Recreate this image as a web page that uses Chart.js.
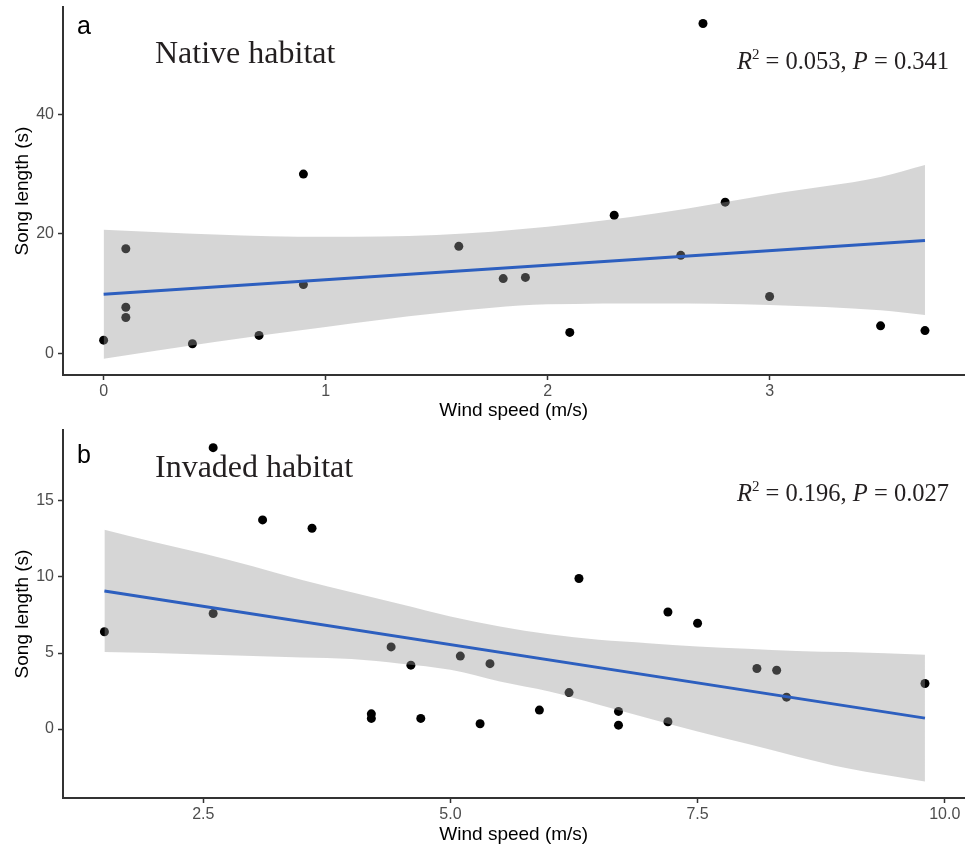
<!DOCTYPE html>
<html lang="en">
<head>
    <meta charset="UTF-8">
    <title>Song length vs wind speed</title>
    <style>
        html, body { margin: 0; padding: 0; background: #fff; overflow: hidden; }
        .panel { position: absolute; left: 0; }
        #panelA { top: 0; }
        #panelB { top: 420px; }
    </style>
</head>
<body>

    <div class="panel" id="panelA"><canvas id="chartA" width="969" height="420"></canvas></div>
    <div class="panel" id="panelB"><canvas id="chartB" width="969" height="425"></canvas></div>

    <script src="https://cdn.jsdelivr.net/npm/chart.js@4.4.1/dist/chart.umd.min.js"></script>
    <script>
        // panel a - native habitat
        var windA = [0, 0.1, 0.1, 0.1, 0.4, 0.7, 0.9, 0.9, 1.6, 1.8, 1.9, 2.1, 2.3, 2.6, 2.7, 2.8, 3.0, 3.5, 3.7];
        var songA = [2.2, 17.5, 7.7, 6.0, 1.6, 3.0, 30.0, 11.5, 17.9, 12.5, 12.7, 3.5, 23.1, 16.4, 55.2, 25.3, 9.5, 4.6, 3.8];
        var fitXA = [0, 3.7];
        var fitYA = [9.9, 18.9];
        var bandXA = [0, 0.5, 1, 1.5, 2, 2.5, 3, 3.5, 3.7];
        var bandHiA = [20.7, 19.9, 19.5, 19.8, 21.2, 23.5, 26.6, 29.5, 31.5];
        var bandLoA = [-0.9, 1.9, 4.4, 6.7, 8.2, 8.35, 8.1, 7.2, 6.4];
        var xTicksA = [0, 1, 2, 3];
        var yTicksA = [0, 20, 40];

        // panel b - invaded habitat
        var windB = [1.5, 2.6, 2.6, 3.1, 3.6, 4.2, 4.2, 4.4, 4.6, 4.7, 5.1, 5.3, 5.4, 5.9, 6.2, 6.3, 6.7, 6.7, 7.2, 7.2, 7.5, 8.1, 8.3, 8.4, 9.8];
        var songB = [6.4, 18.5, 7.6, 13.75, 13.2, 1.0, 0.7, 5.4, 4.2, 0.7, 4.8, 0.35, 4.3, 1.25, 2.4, 9.9, 1.16, 0.26, 7.7, 0.48, 6.96, 3.98, 3.87, 2.1, 3.0];
        var fitXB = [1.5, 9.8];
        var fitYB = [9.07, 0.72];
        var bandXB = [1.5, 2, 2.5, 3, 3.5, 4, 4.5, 5, 5.5, 6, 6.5, 7, 7.5, 8, 8.5, 9, 9.8];
        var bandHiB = [13.1, 12.3, 11.55, 10.7, 9.8, 9.0, 8.2, 7.4, 6.75, 6.24, 5.87, 5.65, 5.43, 5.28, 5.14, 5.06, 4.88];
        var bandLoB = [5.06, 5.0, 4.9, 4.8, 4.7, 4.6, 4.3, 3.9, 3.13, 2.47, 1.6, 0.72, -0.16, -0.97, -1.8, -2.56, -3.44];
        var xTicksB = [2.5, 5.0, 7.5, 10.0];
        var yTicksB = [0, 5, 10, 15];

        var sans = '"Liberation Sans", Arial, sans-serif';
        var serif = '"Liberation Serif", "Times New Roman", serif';

        function pts(xs, ys) {
            return xs.map(function (x, i) { return { x: x, y: ys[i] }; });
        }

        // letter, habitat title and the R2/P note
        var panelText = {
            id: 'panelText',
            afterDraw: function (chart, args, opts) {
                var ctx = chart.ctx;
                ctx.save();
                ctx.textBaseline = 'alphabetic';
                ctx.textAlign = 'left';
                ctx.fillStyle = '#000';
                ctx.font = '25px ' + sans;
                ctx.fillText(opts.letter, 77, opts.letterY);
                ctx.fillStyle = '#231f20';
                ctx.font = '32px ' + serif;
                ctx.fillText(opts.title, 155, opts.titleY);

                var parts = [
                    ['italic 24.5px ' + serif, 'R', 0],
                    ['15px ' + serif, '2', -10],
                    ['24.5px ' + serif, ' = ' + opts.r2 + ', ', 0],
                    ['italic 24.5px ' + serif, 'P', 0],
                    ['24.5px ' + serif, ' = ' + opts.p, 0]
                ];
                var total = 0;
                parts.forEach(function (p) { ctx.font = p[0]; total += ctx.measureText(p[1]).width; });
                var x = 949 - total;
                parts.forEach(function (p) {
                    ctx.font = p[0];
                    ctx.fillText(p[1], x, opts.statY + p[2]);
                    x += ctx.measureText(p[1]).width;
                });
                ctx.restore();
            }
        };

        function makeChart(id, c) {
            var ctx = document.getElementById(id).getContext('2d');
            return new Chart(ctx, {
                type: 'scatter',
                data: {
                    datasets: [
                        {
                            data: pts(c.wind, c.song),
                            backgroundColor: '#000',
                            borderWidth: 0,
                            pointRadius: 4.5,
                            order: 3
                        },
                        {
                            type: 'line',
                            data: pts(c.bandX, c.bandHi),
                            borderColor: 'rgba(0,0,0,0)',
                            borderWidth: 0,
                            pointRadius: 0,
                            cubicInterpolationMode: 'monotone',
                            backgroundColor: 'rgba(153,153,153,0.4)',
                            fill: '+1',
                            order: 2
                        },
                        {
                            type: 'line',
                            data: pts(c.bandX, c.bandLo),
                            borderColor: 'rgba(0,0,0,0)',
                            borderWidth: 0,
                            pointRadius: 0,
                            cubicInterpolationMode: 'monotone',
                            fill: false,
                            order: 2
                        },
                        {
                            type: 'line',
                            data: pts(c.fitX, c.fitY),
                            borderColor: '#2d5fbf',
                            borderWidth: 3,
                            pointRadius: 0,
                            fill: false,
                            order: 1
                        }
                    ]
                },
                options: {
                    responsive: false,
                    animation: false,
                    layout: { padding: { top: c.top, left: 0, right: 0, bottom: 0 } },
                    plugins: {
                        legend: { display: false },
                        tooltip: { enabled: false },
                        panelText: c.text
                    },
                    scales: {
                        x: {
                            type: 'linear',
                            min: c.xMin,
                            max: c.xMax,
                            border: { display: true, color: '#333', width: 2 },
                            grid: { display: true, drawOnChartArea: false, drawTicks: true, tickLength: 5, tickColor: '#333', tickWidth: 1.5 },
                            ticks: {
                                color: '#4d4d4d',
                                font: { family: sans, size: 16 },
                                padding: 2,
                                callback: c.xFmt
                            },
                            afterBuildTicks: function (s) { s.ticks = c.xTicks.map(function (v) { return { value: v }; }); },
                            afterFit: function (s) {
                                s.height = c.xHeight;
                                s.paddingLeft = 0; s.paddingRight = 0;
                            },
                            title: {
                                display: true,
                                text: 'Wind speed (m/s)',
                                color: '#000',
                                font: { family: sans, size: 19 },
                                padding: { top: 0, bottom: c.xTitlePad }
                            }
                        },
                        y: {
                            type: 'linear',
                            min: c.yMin,
                            max: c.yMax,
                            border: { display: true, color: '#333', width: 2 },
                            grid: { display: true, drawOnChartArea: false, drawTicks: true, tickLength: 5, tickColor: '#333', tickWidth: 1.5 },
                            ticks: {
                                color: '#4d4d4d',
                                font: { family: sans, size: 16 },
                                padding: 4
                            },
                            afterBuildTicks: function (s) { s.ticks = c.yTicks.map(function (v) { return { value: v }; }); },
                            afterFit: function (s) {
                                s.width = 63;
                                s.paddingTop = 0; s.paddingBottom = 0;
                            },
                            title: {
                                display: true,
                                text: 'Song length (s)',
                                color: '#000',
                                font: { family: sans, size: 19 },
                                padding: { top: 11, bottom: 0 }
                            }
                        }
                    }
                },
                plugins: [panelText]
            });
        }

        makeChart('chartA', {
            wind: windA, song: songA, fitX: fitXA, fitY: fitYA,
            bandX: bandXA, bandHi: bandHiA, bandLo: bandLoA,
            xTicks: xTicksA, yTicks: yTicksA,
            xMin: -0.183, xMax: 3.878, yMin: -3.63, yMax: 57.96,
            top: 7, xHeight: 45, xTitlePad: -2,
            xFmt: function (v) { return String(v); },
            text: { letter: 'a', letterY: 34, title: 'Native habitat', titleY: 63, r2: '0.053', p: '0.341', statY: 69 }
        });

        makeChart('chartB', {
            wind: windB, song: songB, fitX: fitXB, fitY: fitYB,
            bandX: bandXB, bandHi: bandHiB, bandLo: bandLoB,
            xTicks: xTicksB, yTicks: yTicksB,
            xMin: 1.081, xMax: 10.2, yMin: -4.53, yMax: 19.66,
            top: 10, xHeight: 47, xTitlePad: -1.4,
            xFmt: function (v) { return v.toFixed(1); },
            text: { letter: 'b', letterY: 43, title: 'Invaded habitat', titleY: 57, r2: '0.196', p: '0.027', statY: 81 }
        });
    </script>

</body>
</html>
